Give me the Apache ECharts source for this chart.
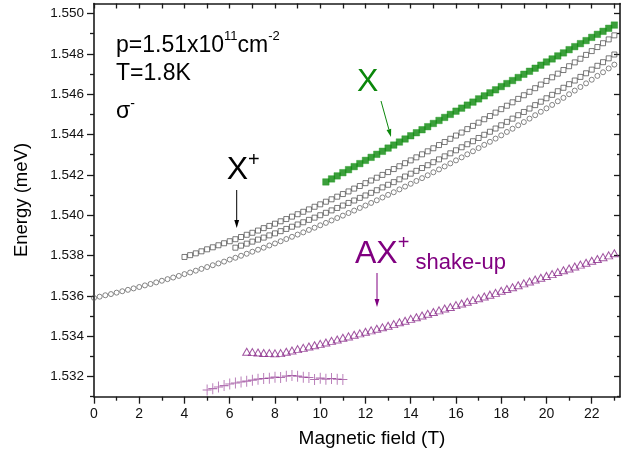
<!DOCTYPE html>
<html>
<head>
<meta charset="utf-8">
<script src="https://cdn.jsdelivr.net/npm/echarts@6/dist/echarts.min.js"></script>
<style>
  html, body { margin: 0; padding: 0; background: #fff; }
  #chart { width: 621px; height: 458px; }
</style>
</head>
<body>
<div id="chart"></div>
<script>
// magnetic field grid (T)
const field = [0,0.25,0.5,0.75,1,1.25,1.5,1.75,2,2.25,2.5,2.75,3,3.25,3.5,3.75,4,4.25,4.5,4.75,
  5,5.25,5.5,5.75,6,6.25,6.5,6.75,7,7.25,7.5,7.75,8,8.25,8.5,8.75,9,9.25,9.5,9.75,
  10,10.25,10.5,10.75,11,11.25,11.5,11.75,12,12.25,12.5,12.75,13,13.25,13.5,13.75,14,14.25,14.5,14.75,
  15,15.25,15.5,15.75,16,16.25,16.5,16.75,17,17.25,17.5,17.75,18,18.25,18.5,18.75,19,19.25,19.5,19.75,
  20,20.25,20.5,20.75,21,21.25,21.5,21.75,22,22.25,22.5,22.75,23];

// X+ lower branch (open circles), from 0 T
const circleFrom = 0;
const circleE = [1.53590,1.53596,1.53603,1.53609,1.53616,1.53623,1.53630,1.53637,
  1.53644,1.53652,1.53659,1.53667,1.53675,1.53683,1.53691,1.53699,
  1.53708,1.53716,1.53725,1.53734,1.53743,1.53752,1.53761,1.53770,
  1.53780,1.53789,1.53799,1.53809,1.53819,1.53829,1.53839,1.53850,
  1.53860,1.53871,1.53882,1.53893,1.53904,1.53915,1.53927,1.53938,
  1.53950,1.53962,1.53974,1.53986,1.53998,1.54011,1.54023,1.54036,
  1.54048,1.54061,1.54074,1.54088,1.54101,1.54114,1.54128,1.54142,
  1.54156,1.54170,1.54184,1.54198,1.54213,1.54227,1.54242,1.54257,
  1.54272,1.54287,1.54302,1.54317,1.54333,1.54349,1.54364,1.54380,
  1.54396,1.54413,1.54429,1.54446,1.54462,1.54479,1.54496,1.54513,
  1.54530,1.54547,1.54565,1.54582,1.54600,1.54618,1.54636,1.54654,
  1.54672,1.54691,1.54709,1.54728,1.54747];

// X+ upper branch (open squares), from 4 T
const squareHiFrom = 4;
const squareHiE = [1.53793,1.53802,1.53811,1.53821,1.53831,1.53841,1.53851,1.53861,
  1.53871,1.53881,1.53892,1.53903,1.53913,1.53924,1.53936,1.53947,
  1.53958,1.53970,1.53981,1.53993,1.54005,1.54017,1.54029,1.54042,
  1.54054,1.54067,1.54079,1.54092,1.54105,1.54118,1.54132,1.54145,
  1.54159,1.54172,1.54186,1.54200,1.54214,1.54229,1.54243,1.54258,
  1.54272,1.54287,1.54302,1.54317,1.54332,1.54348,1.54363,1.54379,
  1.54395,1.54410,1.54427,1.54443,1.54459,1.54476,1.54492,1.54509,
  1.54526,1.54543,1.54560,1.54577,1.54595,1.54612,1.54630,1.54648,
  1.54666,1.54684,1.54702,1.54720,1.54739,1.54758,1.54776,1.54795,
  1.54814,1.54834,1.54853,1.54872,1.54892];

// X+ middle branch (open squares), from 6.25 T
const squareLoFrom = 6.25;
const squareLoE = [1.53839,1.53849,1.53859,1.53869,1.53879,1.53889,1.53900,
  1.53910,1.53921,1.53932,1.53943,1.53954,1.53965,1.53977,1.53988,
  1.54000,1.54012,1.54024,1.54036,1.54048,1.54061,1.54073,1.54086,
  1.54098,1.54111,1.54124,1.54138,1.54151,1.54164,1.54178,1.54192,
  1.54206,1.54220,1.54234,1.54248,1.54263,1.54277,1.54292,1.54307,
  1.54322,1.54337,1.54352,1.54367,1.54383,1.54399,1.54414,1.54430,
  1.54446,1.54463,1.54479,1.54496,1.54512,1.54529,1.54546,1.54563,
  1.54580,1.54597,1.54615,1.54632,1.54650,1.54668,1.54686,1.54704,
  1.54722,1.54741,1.54759,1.54778,1.54797];

// X exciton (filled green squares), from 10.25 T
const excitonFrom = 10.25;
const excitonE = [1.54165,1.54180,1.54195,1.54211,1.54226,1.54241,1.54256,
  1.54272,1.54287,1.54302,1.54317,1.54333,1.54348,1.54363,1.54378,
  1.54394,1.54409,1.54424,1.54439,1.54455,1.54470,1.54485,1.54500,
  1.54516,1.54531,1.54546,1.54561,1.54577,1.54592,1.54607,1.54622,
  1.54638,1.54653,1.54668,1.54683,1.54699,1.54714,1.54729,1.54744,
  1.54760,1.54775,1.54790,1.54805,1.54821,1.54836,1.54851,1.54866,
  1.54882,1.54897,1.54912,1.54927,1.54943];

// AX+ shake-up (open triangles), from 6.75 T
const shakeFrom = 6.75;
const shakeE = [1.53323,1.53321,1.53319,1.53317,1.53316,
  1.53315,1.53316,1.53323,1.53329,1.53336,1.53342,1.53349,1.53355,
  1.53362,1.53369,1.53377,1.53384,1.53392,1.53399,1.53407,1.53414,
  1.53422,1.53429,1.53437,1.53444,1.53452,1.53460,1.53469,1.53477,
  1.53486,1.53494,1.53503,1.53511,1.53520,1.53528,1.53537,1.53545,
  1.53554,1.53562,1.53571,1.53579,1.53588,1.53597,1.53606,1.53615,
  1.53625,1.53634,1.53643,1.53653,1.53662,1.53671,1.53681,1.53690,
  1.53699,1.53708,1.53718,1.53727,1.53736,1.53746,1.53755,1.53764,
  1.53774,1.53783,1.53792,1.53801,1.53811];

// low-energy line (crosses), from 5 T
const crossFrom = 5;
const crossE = [1.53133,1.53140,1.53148,1.53155,1.53163,1.53168,1.53173,1.53177,
  1.53182,1.53187,1.53190,1.53192,1.53197,1.53195,1.53202,1.53205,
  1.53202,1.53197,1.53195,1.53185,1.53192,1.53187,1.53190,1.53187,1.53185];

// ticks
const xMajor = [0,2,4,6,8,10,12,14,16,18,20,22];
const xMinor = [1,3,5,7,9,11,13,15,17,19,21,23];
const xTop = [0,1,2,3,4,5,6,7,8,9,10,11,12,13,14,15,16,17,18,19,20,21,22,23];
const yMajor = [1.532,1.534,1.536,1.538,1.540,1.542,1.544,1.546,1.548,1.550];
const yMinor = [1.531,1.533,1.535,1.537,1.539,1.541,1.543,1.545,1.547,1.549];

const FONT = '"Liberation Sans", Arial, Helvetica, sans-serif';
const AXIS_COLOR = '#1a1a1a';

const pairs = (from, energies) => {
  const i0 = field.indexOf(from);
  return energies.map((e, i) => [field[i0 + i], e]);
};

const X_RANGE = { min: 0, max: 23.25 };
const Y_RANGE = { min: 1.531, max: 1.5505 };

const xAxisBase = (extra) => Object.assign({
  type: 'value', min: X_RANGE.min, max: X_RANGE.max,
  splitLine: { show: false },
  axisLine: { show: false, onZero: false },
  axisLabel: { show: false },
}, extra);
const yAxisBase = (extra) => Object.assign({
  type: 'value', min: Y_RANGE.min, max: Y_RANGE.max, scale: true,
  splitLine: { show: false },
  axisLine: { show: false, onZero: false },
  axisLabel: { show: false },
}, extra);

const tick = (values, length, inside) => ({
  show: true, customValues: values, length, inside: !!inside,
  lineStyle: { color: AXIS_COLOR, width: 1.3 },
});
const frameLine = { show: true, onZero: false, lineStyle: { color: AXIS_COLOR, width: 1.6 } };

function arrow(x1, y1, x2, y2, color) {
  const dx = x2 - x1, dy = y2 - y1;
  const len = Math.sqrt(dx * dx + dy * dy);
  const ux = dx / len, uy = dy / len;
  const hl = 8, hw = 2.4;
  const bx = x2 - ux * hl, by = y2 - uy * hl;
  return [
    { type: 'line', silent: true, shape: { x1, y1, x2: bx, y2: by }, style: { stroke: color, lineWidth: 1 } },
    { type: 'polygon', silent: true,
      shape: { points: [[x2, y2], [bx - uy * hw, by + ux * hw], [bx + uy * hw, by - ux * hw]] },
      style: { fill: color } },
  ];
}

const chart = echarts.init(document.getElementById('chart'), null, { renderer: 'canvas' });

chart.setOption({
  animation: false,
  backgroundColor: '#fff',
  grid: { left: 94, right: 1, top: 3.5, bottom: 61.3, containLabel: false, outerBoundsMode: 'none' },
  xAxis: [
    xAxisBase({
      position: 'bottom',
      axisLine: frameLine,
      axisTick: tick(xMajor, 7),
      axisLabel: { show: true, customValues: xMajor, fontSize: 14, color: '#111', fontFamily: FONT, margin: 10 },
    }),
    xAxisBase({ position: 'bottom', axisTick: tick(xMinor, 4) }),
    xAxisBase({ position: 'top', axisLine: frameLine, axisTick: tick(xTop, 5, true) }),
  ],
  yAxis: [
    yAxisBase({
      position: 'left',
      axisLine: frameLine,
      axisTick: tick(yMajor, 7),
      axisLabel: {
        show: true, customValues: yMajor, fontSize: 13.5, color: '#111', fontFamily: FONT, margin: 10,
        formatter: (v) => v.toFixed(3),
      },
    }),
    yAxisBase({ position: 'left', axisTick: tick(yMinor, 4) }),
    yAxisBase({ position: 'right', axisLine: frameLine, axisTick: tick(yMajor, 6, true) }),
    yAxisBase({ position: 'right', axisTick: tick(yMinor, 3, true) }),
  ],
  series: [
    {
      name: 'X+ circles', type: 'scatter', silent: true,
      data: pairs(circleFrom, circleE),
      symbol: 'circle', symbolSize: 5,
      itemStyle: { color: 'rgba(0,0,0,0)', borderColor: '#555', borderWidth: 0.9 },
    },
    {
      name: 'X+ squares high', type: 'scatter', silent: true,
      data: pairs(squareHiFrom, squareHiE),
      symbol: 'rect', symbolSize: 5,
      itemStyle: { color: 'rgba(0,0,0,0)', borderColor: '#444', borderWidth: 0.9 },
    },
    {
      name: 'X+ squares low', type: 'scatter', silent: true,
      data: pairs(squareLoFrom, squareLoE),
      symbol: 'rect', symbolSize: 5,
      itemStyle: { color: 'rgba(0,0,0,0)', borderColor: '#444', borderWidth: 0.9 },
    },
    {
      name: 'X', type: 'scatter', silent: true,
      data: pairs(excitonFrom, excitonE),
      symbol: 'rect', symbolSize: 6.5,
      itemStyle: { color: '#0b870b', borderColor: '#1f9a1f', borderWidth: 0.5 },
    },
    {
      name: 'AX+ shake-up', type: 'scatter', silent: true,
      data: pairs(shakeFrom, shakeE),
      symbol: 'triangle', symbolSize: [8, 7],
      itemStyle: { color: 'rgba(0,0,0,0)', borderColor: '#8a2a8a', borderWidth: 1 },
    },
    {
      name: 'crosses', type: 'scatter', silent: true,
      data: pairs(crossFrom, crossE),
      symbol: 'path://M4.5,0H5.5V4.5H10V5.5H5.5V10H4.5V5.5H0V4.5H4.5Z', symbolSize: [9, 11],
      itemStyle: { color: 'rgba(135,35,135,0.8)' },
    },
  ],
  graphic: [
    { type: 'text', silent: true, style: {
      x: 116, y: 30.3, verticalAlign: 'top', fill: '#000',
      text: '{m|p=1.51x10}{s|11}{m|cm}{s|-2}',
      rich: {
        m: { fontSize: 23, lineHeight: 30, fontFamily: FONT },
        s: { fontSize: 13, lineHeight: 13, fontFamily: FONT, verticalAlign: 'top' },
      },
    } },
    { type: 'text', silent: true, style: {
      x: 116, y: 73.7, verticalAlign: 'middle', fill: '#000',
      text: 'T=1.8K', font: '23px ' + FONT,
    } },
    { type: 'text', silent: true, style: {
      x: 116, y: 97, verticalAlign: 'top', fill: '#000',
      text: '{m|σ}{s|-}',
      rich: {
        m: { fontSize: 23, lineHeight: 30, fontFamily: FONT },
        s: { fontSize: 14, lineHeight: 8, fontFamily: FONT, verticalAlign: 'top' },
      },
    } },
    { type: 'text', silent: true, style: {
      x: 357, y: 81.9, verticalAlign: 'middle', fill: '#0b870b',
      text: 'X', font: '32px ' + FONT,
    } },
    { type: 'text', silent: true, style: {
      x: 226.7, y: 150.6, verticalAlign: 'top', fill: '#000',
      text: '{m|X}{s|+}',
      rich: {
        m: { fontSize: 32, lineHeight: 40, fontFamily: FONT },
        s: { fontSize: 20, lineHeight: 15, fontFamily: FONT, verticalAlign: 'top' },
      },
    } },
    { type: 'text', silent: true, style: {
      x: 355, y: 233.9, verticalAlign: 'top', fill: '#800080',
      text: '{m|AX}{s|+}{t| shake-up}',
      rich: {
        m: { fontSize: 32, lineHeight: 40, fontFamily: FONT },
        s: { fontSize: 20, lineHeight: 20, fontFamily: FONT, verticalAlign: 'top' },
        t: { fontSize: 22, lineHeight: 39, fontFamily: FONT, verticalAlign: 'bottom' },
      },
    } },
    { type: 'text', silent: true, style: {
      x: 372, y: 439, align: 'center', verticalAlign: 'middle', fill: '#000',
      text: 'Magnetic field (T)', font: '19px ' + FONT,
    } },
    { type: 'text', silent: true, rotation: Math.PI / 2, x: 22, y: 200, style: {
      x: 0, y: 0, align: 'center', verticalAlign: 'middle', fill: '#000',
      text: 'Energy (meV)', font: '18.5px ' + FONT,
    } },
    ...arrow(381, 101, 391, 137, '#0b870b'),
    ...arrow(236.7, 190, 236.7, 228, '#000'),
    ...arrow(377, 273, 377, 307, '#800080'),
  ],
});
</script>
</body>
</html>
